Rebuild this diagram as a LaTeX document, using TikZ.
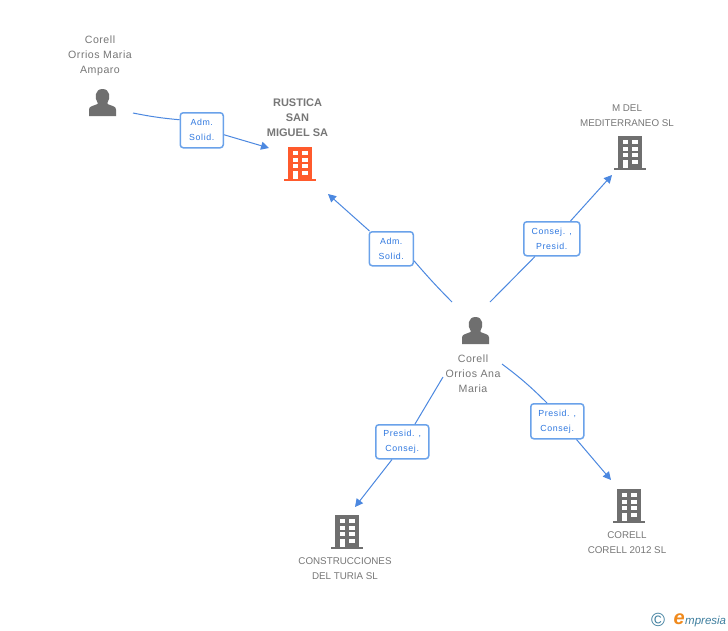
\documentclass[tikz,border=0pt]{standalone}
\usepackage{fontspec}
\setmainfont{Liberation Sans}
\newfontfamily\lblfont[LetterSpace=7]{Liberation Sans}
\newfontfamily\perfont[LetterSpace=5]{Liberation Sans}
\usetikzlibrary{arrows.meta,positioning}
\definecolor{icongray}{HTML}{6F6F6F}
\definecolor{txtgray}{HTML}{777777}
\definecolor{linkblue}{HTML}{4C88E0}
\definecolor{lbltxt}{HTML}{2F78E0}
\definecolor{lblbord}{HTML}{6AA2EA}
\definecolor{redb}{HTML}{FF5A2C}
\definecolor{logoteal}{HTML}{3F7F9F}
\definecolor{logoorange}{HTML}{F08A1D}
\tikzset{
  x=1pt,y=-1pt,
  entname/.style={align=center,text=txtgray,font=\fontsize{9.8}{15}\selectfont,inner sep=0pt},
  pername/.style={entname,font=\fontsize{10.6}{15}\selectfont\perfont},
  boldname/.style={entname,font=\fontsize{11}{15}\selectfont\bfseries},
  lbl/.style={draw=lblbord,line width=1.5pt,rounded corners=3pt,fill=white,align=center,text=lbltxt,
     font=\fontsize{8.8}{15}\selectfont\lblfont,inner sep=0pt,anchor=north west},
  link/.style={draw=linkblue,line width=1pt},
  linkarrow/.style={link,-{Triangle[length=8pt,width=8pt]}},
  pics/person/.style={code={
    \fill[icongray] (-13.5,13.5) -- (-13.5,7) .. controls (-13.5,3.5) and (-9,3.5) .. (-5,1.5)
      -- (-5,0) .. controls (-8,-4) and (-8,-13.5) .. (0,-13.5)
      .. controls (8,-13.5) and (8,-4) .. (5,0) -- (5,1.5)
      .. controls (9,3.5) and (13.5,3.5) .. (13.5,7) -- (13.5,13.5) -- cycle;
  }},
  pics/building/.style={code={
    \fill[#1] (-16,15) rectangle (16,17);
    \fill[#1] (-12,-17) rectangle (12,15.5);
    \fill[white] (-7.3,-13) rectangle (-2.3,-9);
    \fill[white] (2.3,-13) rectangle (7.7,-9);
    \fill[white] (-7.3,-6) rectangle (-2.3,-2);
    \fill[white] (2.3,-6) rectangle (7.7,-2);
    \fill[white] (-7.3,0.3) rectangle (-2.3,4.3);
    \fill[white] (2.3,0.3) rectangle (7.7,4.3);
    \fill[white] (-7.3,6.5) rectangle (-2.3,15);
    \fill[white] (2.3,6.5) rectangle (7.7,11);
  }},
}
\begin{document}
\begin{tikzpicture}
\useasboundingbox[fill=white] (0,0) rectangle (728,630);
% icons
\pic at (102.5,102.5) {person};
\pic at (475.5,330.5) {person};
\pic at (300,164) {building=redb};
\pic at (630,153) {building=icongray};
\pic at (347,532) {building=icongray};
\pic at (629,506) {building=icongray};
% names
\node[pername] (n1) at (100,56) {Corell\\Orrios Maria\\Amparo};
\node[boldname] (n2) at (297.5,118) {RUSTICA\\SAN\\MIGUEL SA};
\node[entname] (n3) at (627,115.5) {M DEL\\MEDITERRANEO SL};
\node[pername] (n4) at (473,373.5) {Corell\\Orrios Ana\\Maria};
\node[entname] (n5) at (345,568.5) {CONSTRUCCIONES\\DEL TURIA SL};
\node[entname] (n6) at (627,542.5) {CORELL\\CORELL 2012 SL};
% relation labels
\node[lbl,minimum width=43pt,minimum height=35pt] (l1) at (179.5,112) {Adm.\\Solid.};
\node[lbl,minimum width=44pt,minimum height=34pt] (l2) at (368.5,231) {Adm.\\Solid.};
\node[lbl,minimum width=56pt,minimum height=34pt] (l3) at (523,221) {Consej. ,\\Presid.};
\node[lbl,minimum width=53pt,minimum height=34pt] (l4) at (375,424) {Presid. ,\\Consej.};
\node[lbl,minimum width=53pt,minimum height=35pt] (l5) at (530,403) {Presid. ,\\Consej.};
% free ends
\coordinate (a1) at (133,113);
\coordinate (b1) at (269,148);
\coordinate (a2) at (452,302);
\coordinate (b2) at (328,194);
\coordinate (a3) at (490,302);
\coordinate (b3) at (612,175);
\coordinate (a4) at (443,377);
\coordinate (b4) at (355,507);
\coordinate (a5) at (502,364);
\coordinate (b5) at (611,480);
% connectors
\draw[link] (a1) to[bend right=3] ([yshift=10.5pt]l1.west);
\draw[linkarrow] ([yshift=-4.5pt]l1.east) -- (b1);
\draw[link] (a2) to[bend left=2] ([yshift=-12pt]l2.east);
\draw[linkarrow] ([xshift=1pt]l2.north west) -- (b2);
\draw[link] (a3) -- ([xshift=12pt]l3.south west);
\draw[linkarrow] ([xshift=-10pt]l3.north east) -- (b3);
\draw[link] (a4) -- ([xshift=40pt]l4.north west);
\draw[linkarrow] ([xshift=17pt]l4.south west) -- (b4);
\draw[link] (a5) to[bend left=4] ([xshift=17pt]l5.north west);
\draw[linkarrow] ([xshift=-8pt]l5.south east) -- (b5);
% logo
\node[inner sep=0pt,text=logoteal,font=\fontsize{19}{19}\selectfont] (c) at (658,619.5) {©};
\node[inner sep=0pt,anchor=base west,text=logoteal,font=\fontsize{11.5}{12}\selectfont\itshape] (m) at (685,624) {mpresia};
\node[inner sep=0pt,anchor=base west,text=logoorange,font=\fontsize{20}{21}\selectfont\itshape\bfseries] (e) at (673.5,624) {e};
\end{tikzpicture}
\end{document}
